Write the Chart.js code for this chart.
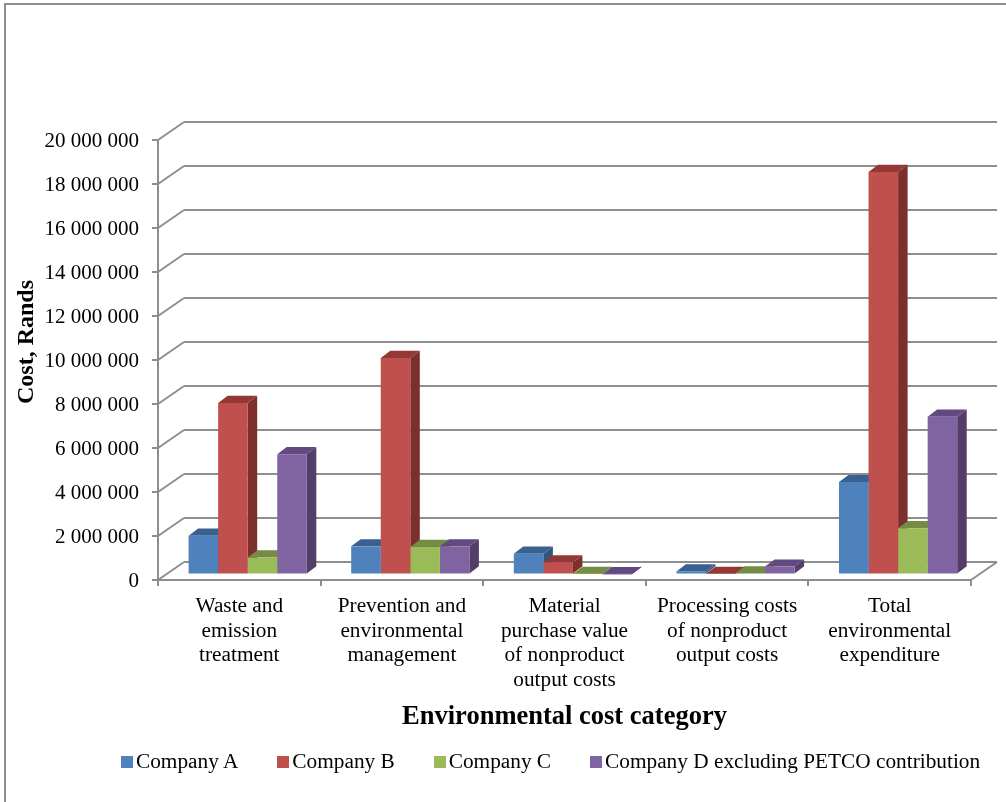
<!DOCTYPE html>
<html>
<head>
<meta charset="utf-8">
<title>Environmental cost by company</title>
<script src="https://cdn.jsdelivr.net/npm/chart.js@4"></script>
<style>
  html, body { margin: 0; padding: 0; background: #fff; }
  #wrap { position: relative; width: 1006px; height: 802px; overflow: hidden; font-family: "Liberation Serif", serif; }
  #frame { position: absolute; left: 4px; top: 3px; right: -4px; bottom: -4px; border: 2px solid #8e8e8e; }
  canvas { position: absolute; left: 0; top: 0; }
  #legend { position: absolute; left: 121px; top: 749px; display: flex; font-size: 21.3px; line-height: 25px; color: #000; white-space: nowrap; }
  #legend .item { display: flex; align-items: center; margin-right: 39px; }
  #legend .swatch { width: 12px; height: 12px; margin-right: 3px; }
</style>
</head>
<body>
<div id="wrap">
  <div id="frame"></div>
  <canvas id="myChart" width="1006" height="802"></canvas>
  <div id="legend"></div>
</div>
<script>
const categories = [
  ['Waste and', 'emission', 'treatment'],
  ['Prevention and', 'environmental', 'management'],
  ['Material', 'purchase value', 'of nonproduct', 'output costs'],
  ['Processing costs', 'of nonproduct', 'output costs'],
  ['Total', 'environmental', 'expenditure']
];

const companyA = [1760000, 1280000, 940000, 140000, 4200000];
const companyB = [7800000, 9840000, 550000, 30000, 18300000];
const companyC = [770000, 1250000, 20000, 50000, 2100000];
const companyD = [5470000, 1280000, 10000, 360000, 7170000];

const seriesNames = ['Company A', 'Company B', 'Company C', 'Company D excluding PETCO contribution'];
const seriesValues = [companyA, companyB, companyC, companyD];

const frontColors = ['#4f81bd', '#c0504d', '#9bbb59', '#8064a2'];
const topColors = ['#38618f', '#943835', '#748c43', '#62497f'];
const sideColors = ['#34557c', '#7d2f2d', '#66793a', '#523e66'];

const gridColor = '#8e8e8e';

// depth of the back wall and of the bars, and where the bars stand on the floor
const wall = { dx: 26, dy: -18 };
const barDepth = { dx: 9.5, dy: -7.2 };
const barShift = { dx: 8.4, dy: -5.5 };

function line(ctx, x1, y1, x2, y2) {
  ctx.beginPath();
  ctx.moveTo(x1, y1);
  ctx.lineTo(x2, y2);
  ctx.stroke();
}

function quad(ctx, pts, color) {
  ctx.fillStyle = color;
  ctx.beginPath();
  pts.forEach((p, i) => (i ? ctx.lineTo(p[0], p[1]) : ctx.moveTo(p[0], p[1])));
  ctx.closePath();
  ctx.fill();
}

// back wall, side wall and floor, then the top and side faces of each bar.
// The front faces are the normal Chart.js bars, drawn last and shifted back onto the floor.
const box3d = {
  id: 'box3d',
  beforeDatasetsDraw(chart) {
    const { ctx, chartArea, scales } = chart;
    const { left, right } = chartArea;

    ctx.save();
    ctx.strokeStyle = gridColor;
    ctx.lineWidth = 2;
    scales.y.ticks.forEach((tick) => {
      const y = scales.y.getPixelForValue(tick.value);
      line(ctx, left, y, left + wall.dx, y + wall.dy);
      line(ctx, left + wall.dx, y + wall.dy, right + wall.dx, y + wall.dy);
    });
    const floorY = scales.y.getPixelForValue(0);
    line(ctx, right, floorY, right + wall.dx, floorY + wall.dy);

    ctx.translate(barShift.dx, barShift.dy);
    categories.forEach((cat, c) => {
      seriesValues.forEach((values, s) => {
        const bar = chart.getDatasetMeta(s).data[c];
        const half = bar.width / 2;
        const l = bar.x - half;
        const r = bar.x + half;
        const { dx, dy } = barDepth;
        quad(ctx, [[r, bar.y], [r + dx, bar.y + dy], [r + dx, bar.base + dy], [r, bar.base]], sideColors[s]);
        quad(ctx, [[l, bar.y], [l + dx, bar.y + dy], [r + dx, bar.y + dy], [r, bar.y]], topColors[s]);
      });
    });
    ctx.restore();

    ctx.save();
    ctx.translate(barShift.dx, barShift.dy);
  },
  afterDatasetsDraw(chart) {
    chart.ctx.restore();
  },
  afterDraw(chart) {
    // sits above the middle of the axis, so it is placed by hand
    const { ctx } = chart;
    ctx.save();
    ctx.translate(27, 342);
    ctx.rotate(-Math.PI / 2);
    ctx.font = 'bold 24px "Liberation Serif"';
    ctx.fillStyle = '#000';
    ctx.textAlign = 'center';
    ctx.textBaseline = 'middle';
    ctx.fillText('Cost, Rands', 0, 0);
    ctx.restore();
  }
};

const chart = new Chart(document.getElementById('myChart'), {
  type: 'bar',
  plugins: [box3d],
  data: {
    labels: categories,
    datasets: seriesNames.map((name, i) => ({
      label: name,
      data: seriesValues[i],
      backgroundColor: frontColors[i],
      borderWidth: 0,
      clip: false
    }))
  },
  options: {
    responsive: false,
    animation: false,
    layout: { padding: { left: 0, right: 35, top: 140, bottom: 69 } },
    datasets: { bar: { categoryPercentage: 0.727, barPercentage: 1 } },
    plugins: { legend: { display: false }, tooltip: { enabled: false } },
    scales: {
      x: {
        afterFit: (scale) => { scale.height = 153; },
        border: { color: gridColor, width: 2 },
        grid: { color: gridColor, lineWidth: 2, drawOnChartArea: false, tickLength: 6 },
        ticks: {
          autoSkip: false,
          maxRotation: 0,
          color: '#000',
          padding: 8,
          font: { family: '"Liberation Serif"', size: 21.3, lineHeight: 1.16 }
        },
        title: {
          display: true,
          text: 'Environmental cost category',
          color: '#000',
          padding: 0,
          font: { family: '"Liberation Serif"', size: 26.5, weight: 'bold' }
        }
      },
      y: {
        min: 0,
        max: 20000000,
        afterFit: (scale) => { scale.width = 158; },
        border: { color: gridColor, width: 2 },
        grid: { color: gridColor, lineWidth: 2, drawOnChartArea: false, tickLength: 6 },
        ticks: {
          stepSize: 2000000,
          color: '#000',
          padding: 13,
          labelOffset: 1.5,
          font: { family: '"Liberation Serif"', size: 21 },
          callback: (value) => String(value).replace(/\B(?=(\d{3})+$)/g, ' ')
        }
      }
    }
  }
});

// legend with the swatch set tight against its label
const legendBox = document.getElementById('legend');
chart.data.datasets.forEach((ds) => {
  const item = document.createElement('div');
  item.className = 'item';
  const swatch = document.createElement('span');
  swatch.className = 'swatch';
  swatch.style.background = ds.backgroundColor;
  const text = document.createElement('span');
  text.textContent = ds.label;
  item.append(swatch, text);
  legendBox.appendChild(item);
});
</script>
</body>
</html>
